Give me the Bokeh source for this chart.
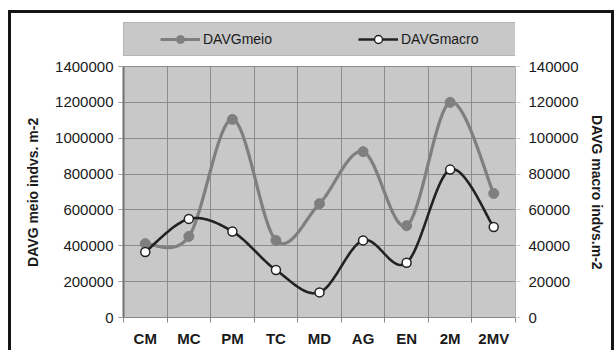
import numpy as np
from bokeh.plotting import figure
from bokeh.models import (Range1d, LinearAxis, FixedTicker, NumeralTickFormatter,
                          Legend, LegendItem, BoxAnnotation)
from bokeh.embed import file_html
from bokeh.resources import INLINE

# ---- data ----
categories = ["CM", "MC", "PM", "TC", "MD", "AG", "EN", "2M", "2MV"]
davg_meio = [412000, 452000, 1105000, 430000, 635000, 925000, 512000, 1200000, 692000]
davg_macro = [36500, 55000, 48000, 26500, 14000, 43000, 30500, 82500, 50500]
left_ticks = [0, 200000, 400000, 600000, 800000, 1000000, 1200000, 1400000]
right_ticks = [0, 20000, 40000, 60000, 80000, 100000, 120000, 140000]
left_title = "DAVG meio indvs. m-2"
right_title = "DAVG macro indvs.m-2"

FONT = "Liberation Sans"
xc = [i + 0.5 for i in range(len(categories))]
edges = list(range(len(categories) + 1))

# layout (pixels): frame spans y 20..317, value axis top (1400000) sits at y 66
FRAME_TOP, AXIS_TOP, FRAME_BOTTOM = 20, 66, 317
stretch = (FRAME_BOTTOM - FRAME_TOP) / (FRAME_BOTTOM - AXIS_TOP)
PAD = "\u00a0" * 12  # keeps the axis titles centred on the gray plot area


def smooth(xs, ys, n=40):
    xs = np.asarray(xs, float)
    ys = np.asarray(ys, float)
    px = np.concatenate([[xs[0]], xs, [xs[-1]]])
    py = np.concatenate([[ys[0]], ys, [ys[-1]]])
    t = np.linspace(0, 1, n)
    ox, oy = [], []
    for i in range(len(xs) - 1):
        p0 = np.array([px[i], py[i]]); p1 = np.array([px[i + 1], py[i + 1]])
        p2 = np.array([px[i + 2], py[i + 2]]); p3 = np.array([px[i + 3], py[i + 3]])
        c1 = p1 + (p2 - p0) / 6.0
        c2 = p2 - (p3 - p1) / 6.0
        b = ((1 - t) ** 3)[:, None] * p1 + (3 * (1 - t) ** 2 * t)[:, None] * c1 + \
            (3 * (1 - t) * t ** 2)[:, None] * c2 + (t ** 3)[:, None] * p2
        if i > 0:
            b = b[1:]
        ox.extend(b[:, 0]); oy.extend(b[:, 1])
    return ox, oy


p = figure(width=614, height=350, x_range=Range1d(edges[0], edges[-1]),
           y_range=Range1d(0, left_ticks[-1] * stretch),
           output_backend="svg", toolbar_location=None,
           min_border_left=123, min_border_right=99,
           min_border_top=FRAME_TOP, min_border_bottom=350 - FRAME_BOTTOM)
p.extra_y_ranges = {"right": Range1d(0, right_ticks[-1] * stretch)}

# outer black frame drawn as CSS background lines behind a transparent canvas border
line = "linear-gradient(#151515, #151515)"
p.styles = {
    "background-color": "white",
    "background-image": ", ".join([line, line, line]),
    "background-position": "8px 10px, 8px 10px, 611px 10px",
    "background-size": "3px 400px, 606px 3px, 3px 400px",
    "background-repeat": "no-repeat",
}
p.border_fill_color = None
p.background_fill_color = None
p.outline_line_color = None

# gray plot area (0..1400000)
area = BoxAnnotation(left=edges[0], right=edges[-1], bottom=left_ticks[0], top=left_ticks[-1],
                     fill_color="#c8c8c8", fill_alpha=1, line_color="#a8a8a8",
                     line_width=1, level="image")
p.add_layout(area)

# grids
xg = p.xgrid[0]
xg.ticker = FixedTicker(ticks=edges[1:-1])
xg.grid_line_color = "#8c8c8c"
if "cross_bounds" in xg.properties():
    xg.cross_bounds = (left_ticks[0], left_ticks[-1])
else:
    xg.visible = False
    p.segment(x0=edges[1:-1], y0=[left_ticks[0]] * (len(edges) - 2),
              x1=edges[1:-1], y1=[left_ticks[-1]] * (len(edges) - 2),
              line_color="#8c8c8c", line_width=1, level="underlay")
p.ygrid.ticker = FixedTicker(ticks=left_ticks)
p.ygrid.grid_line_color = "#8c8c8c"

# x axis
xa = p.xaxis[0]
xa.ticker = FixedTicker(ticks=xc, minor_ticks=edges)
xa.major_label_overrides = {x: c for x, c in zip(xc, categories)}
xa.major_tick_out = 0
xa.major_tick_in = 0
xa.minor_tick_out = 5
xa.minor_tick_in = 0
xa.minor_tick_line_color = "#888888"
xa.axis_line_color = "#888888"
xa.major_label_text_font = FONT
xa.major_label_text_font_style = "bold"
xa.major_label_text_font_size = "15px"
xa.major_label_text_color = "#1a1a1a"
xa.major_label_standoff = 7

# left axis
ya = p.yaxis[0]
ya.ticker = FixedTicker(ticks=left_ticks)
ya.formatter = NumeralTickFormatter(format="0")
ya.bounds = (left_ticks[0], left_ticks[-1])
ya.major_tick_out = 5
ya.major_tick_in = 0
ya.minor_tick_out = 0
ya.minor_tick_in = 0
ya.major_tick_line_color = "#9a9a9a"
ya.axis_line_color = "#707070"
ya.axis_line_width = 2
ya.major_label_text_font = FONT
ya.major_label_text_font_size = "15px"
ya.major_label_text_color = "#1a1a1a"
ya.major_label_standoff = 5
ya.axis_label = left_title + PAD
ya.axis_label_text_font = FONT
ya.axis_label_text_font_style = "bold"
ya.axis_label_text_font_size = "14px"
ya.axis_label_text_color = "#1a1a1a"
ya.axis_label_standoff = 11

# right axis
ra = LinearAxis(y_range_name="right", ticker=FixedTicker(ticks=right_ticks),
                formatter=NumeralTickFormatter(format="0"),
                bounds=(right_ticks[0], right_ticks[-1]))
ra.major_tick_out = 5
ra.major_tick_in = 0
ra.minor_tick_out = 0
ra.minor_tick_in = 0
ra.major_tick_line_color = "#cfcfcf"
ra.axis_line_color = "#b0b0b0"
ra.major_label_text_font = FONT
ra.major_label_text_font_size = "15px"
ra.major_label_text_color = "#1a1a1a"
ra.major_label_standoff = 8
ra.axis_label = PAD + right_title
ra.axis_label_text_font = FONT
ra.axis_label_text_font_style = "bold"
ra.axis_label_text_font_size = "14px"
ra.axis_label_text_color = "#1a1a1a"
ra.axis_label_standoff = 7
p.add_layout(ra, "right")

# series
mx, my = smooth(xc, davg_meio)
l1 = p.line(mx, my, line_color="#7f7f7f", line_width=3.2)
s1 = p.scatter(xc, davg_meio, size=10, fill_color="#7f7f7f", line_color="#7f7f7f")

ax_, ay_ = smooth(xc, davg_macro)
l2 = p.line(ax_, ay_, line_color="#222222", line_width=2.6, y_range_name="right")
s2 = p.scatter(xc, davg_macro, size=9, fill_color="white", line_color="#222222",
               line_width=1.5, y_range_name="right")

# legend (gray box above the plot area, inside the frame)
legend = Legend(items=[LegendItem(label="DAVGmeio", renderers=[l1, s1]),
                       LegendItem(label="DAVGmacro", renderers=[l2, s2])],
                orientation="horizontal", location=(0, FRAME_BOTTOM - 56))
legend.title = " "
legend.title_location = "left"
legend.title_text_font_size = "1px"
legend.title_standoff = 29
legend.padding = 6
legend.margin = 0
legend.spacing = 47
legend.glyph_width = 40
legend.glyph_height = 20
legend.label_height = 20
legend.label_width = 108
legend.label_standoff = 3
legend.background_fill_color = "#c8c8c8"
legend.background_fill_alpha = 1
legend.border_line_color = "#a0a0a0"
legend.border_line_width = 1
legend.label_text_font = FONT
legend.label_text_font_size = "14px"
legend.label_text_color = "#1a1a1a"
p.add_layout(legend)

open("out.html", "w").write(file_html(p, INLINE))
